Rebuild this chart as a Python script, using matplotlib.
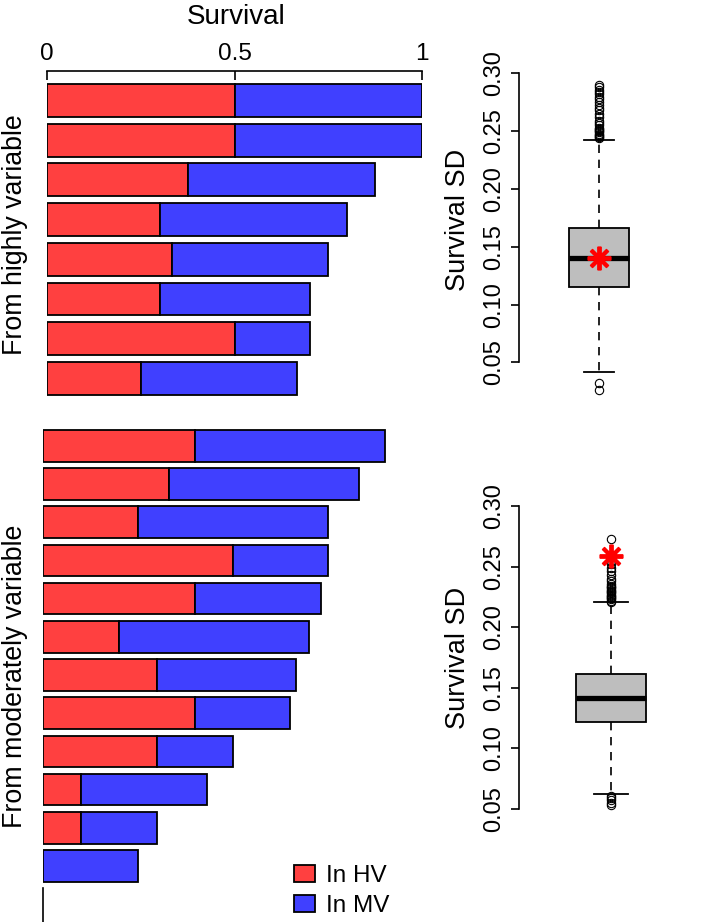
import matplotlib
matplotlib.use("Agg")
import matplotlib.pyplot as plt
import numpy as np

plt.rcParams['font.family'] = ['Liberation Sans', 'DejaVu Sans']

# survival of species from the highly variable group (red part = in HV, total = HV + MV)
hv_from_hv = [0.5, 0.5, 0.375, 0.3, 0.333, 0.3, 0.5, 0.25]
total_from_hv = [1.0, 1.0, 0.875, 0.8, 0.75, 0.7, 0.7, 0.667]

# survival of species from the moderately variable group
hv_from_mv = [0.4, 0.333, 0.25, 0.5, 0.4, 0.2, 0.3, 0.4, 0.3, 0.1, 0.1, 0.0]
total_from_mv = [0.9, 0.833, 0.75, 0.75, 0.733, 0.7, 0.667, 0.65, 0.5, 0.433, 0.3, 0.25]

survival_ticks = [0, 0.5, 1]
survival_ticklabels = ['0', '0.5', '1']

# boxplot summaries of the null distribution of survival SD
sd_hv_stats = dict(med=0.140, q1=0.1155, q3=0.1665, whislo=0.0415, whishi=0.2425)
sd_hv_fliers = [0.244, 0.245, 0.246, 0.247, 0.248, 0.249, 0.250, 0.251, 0.252,
                0.253, 0.255, 0.257, 0.259, 0.262, 0.265, 0.268, 0.270, 0.273,
                0.275, 0.278, 0.280, 0.282, 0.284, 0.286, 0.288, 0.290,
                0.032, 0.026]
sd_hv_observed = 0.140

sd_mv_stats = dict(med=0.1415, q1=0.1215, q3=0.161, whislo=0.0625, whishi=0.2205)
sd_mv_fliers = [0.221, 0.222, 0.223, 0.224, 0.225, 0.226, 0.227, 0.228, 0.229,
                0.230, 0.231, 0.232, 0.233, 0.234, 0.236, 0.238, 0.240, 0.243,
                0.246, 0.249, 0.252, 0.255, 0.2725,
                0.061, 0.059, 0.057, 0.055, 0.0535]
sd_mv_observed = 0.2587

sd_ticks = [0.05, 0.10, 0.15, 0.20, 0.25, 0.30]

RED = '#FF4040'
BLUE = '#4040FF'
W, H = 709, 922


def px_axes(fig, x0, y0, x1, y1):
    """Add axes using pixel coordinates measured from the top-left corner."""
    return fig.add_axes([x0 / W, 1 - y1 / H, (x1 - x0) / W, (y1 - y0) / H])


def bar_panel(ax, hv, total, ylim):
    n = len(hv)
    pos = np.arange(n)
    mv = np.array(total) - np.array(hv)
    b1 = ax.barh(pos, hv, height=0.83, color=RED, edgecolor='black', linewidth=1.3, label='In HV')
    b2 = ax.barh(pos, mv, left=hv, height=0.83, color=BLUE, edgecolor='black', linewidth=1.3, label='In MV')
    ax.set_ylim(*ylim)
    ax.set_xlim(0, 1)
    for s in ['left', 'right', 'bottom', 'top']:
        ax.spines[s].set_visible(False)
    ax.set_yticks([])
    return b1, b2


def box_panel(ax, stats, fliers, observed, ylim):
    st = dict(stats)
    st['fliers'] = fliers
    ax.bxp([st], positions=[1], widths=0.76, capwidths=0.38, patch_artist=True,
           boxprops=dict(facecolor='#BEBEBE', edgecolor='black', linewidth=1.3),
           medianprops=dict(color='black', linewidth=3.8),
           whiskerprops=dict(color='black', linewidth=1.2, linestyle=(0, (5, 4))),
           capprops=dict(color='black', linewidth=1.3),
           flierprops=dict(marker='o', markerfacecolor='none', markeredgecolor='black',
                           markersize=6, markeredgewidth=0.8))
    ax.plot([1], [observed], linestyle='none', marker=(8, 2, 0), color='red',
            markersize=17, markeredgewidth=2.8, zorder=5)
    ax.set_xlim(0, 2)
    ax.set_ylim(*ylim)
    for s in ['right', 'bottom', 'top']:
        ax.spines[s].set_visible(False)
    ax.spines['left'].set_bounds(0.05, 0.30)
    ax.spines['left'].set_linewidth(1.2)
    ax.set_xticks([])
    ax.set_yticks(sd_ticks)
    ax.set_yticklabels(['%.2f' % t for t in sd_ticks], rotation=90, va='center', fontsize=17)
    ax.tick_params(axis='y', direction='out', length=6, width=1.2, pad=4)


fig = plt.figure(figsize=(W / 100, H / 100), dpi=100)

# top bar panel
ax1 = px_axes(fig, 47, 71, 422, 398.25)
bar_panel(ax1, hv_from_hv, total_from_hv, (7.5, -0.743))
ax1.spines['top'].set_visible(True)
ax1.spines['top'].set_linewidth(1.2)
ax1.xaxis.tick_top()
ax1.set_xticks(survival_ticks)
ax1.set_xticklabels(survival_ticklabels, fontsize=17.5)
ax1.tick_params(axis='x', direction='in', length=6.5, width=1.2, pad=4.5)

# bottom bar panel
ax2 = px_axes(fig, 42.7, 420, 422.7, 922)
hb, mb = bar_panel(ax2, hv_from_mv, total_from_mv, (12.466, -0.675))
ax2.set_xticks([])
ax2.spines['left'].set_visible(True)
ax2.spines['left'].set_linewidth(1.2)
ax2.spines['left'].set_bounds(11.576, 12.466)

ax2.legend(handles=[hb, mb], loc='center left',
           bbox_to_anchor=(294 / W, 1 - 891 / H), bbox_transform=fig.transFigure,
           frameon=False, fontsize=17.5, borderpad=0, borderaxespad=0,
           handlelength=0.88, handleheight=0.66, handletextpad=0.42, labelspacing=0.32)

fig.text(236 / W, 1 - 17 / H, 'Survival', ha='center', va='center', fontsize=20)
fig.text(15 / W, 1 - 235 / H, 'From highly variable', rotation=90, ha='center', va='center', fontsize=19.3)
fig.text(15 / W, 1 - 676 / H, 'From moderately variable', rotation=90, ha='center', va='center', fontsize=19.3)

# right box panels
ax3 = px_axes(fig, 519, 67.7, 679, 397)
box_panel(ax3, sd_hv_stats, sd_hv_fliers, sd_hv_observed, (0.02, 0.305))
ax4 = px_axes(fig, 519, 500, 703, 815)
box_panel(ax4, sd_mv_stats, sd_mv_fliers, sd_mv_observed, (0.045, 0.305))

fig.text(458 / W, 1 - 220 / H, 'Survival SD', rotation=90, ha='center', va='center', fontsize=19.5)
fig.text(458 / W, 1 - 658 / H, 'Survival SD', rotation=90, ha='center', va='center', fontsize=19.5)

fig.savefig('out.png', dpi=100)
